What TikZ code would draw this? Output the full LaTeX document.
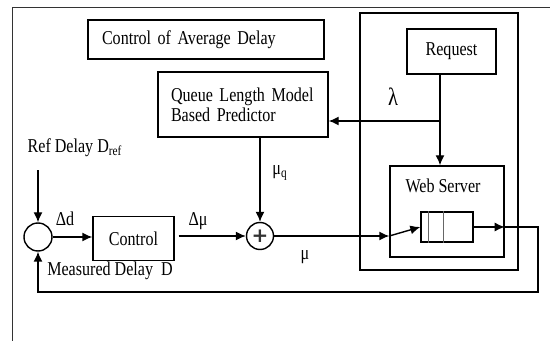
\documentclass[tikz,border=0pt]{standalone}
\usepackage{fontspec}
\setmainfont{Liberation Serif}[FakeStretch=0.82]
\newfontfamily\plusfont{DejaVu Sans}
\usetikzlibrary{arrows.meta}
\begin{document}
\begin{tikzpicture}[x=0.5pt, y=-0.5pt, >={Latex[length=5pt,width=4.5pt]}, line width=0.7pt,
      font=\fontsize{9.8}{10}\selectfont,
      blk/.style={draw, inner sep=0pt, align=center},
      lblk/.style={draw, inner ysep=0pt, align=left},
      sumc/.style={draw, circle, inner sep=0pt}]
    \useasboundingbox (0,0) rectangle (550,341);
    \draw[line width=0.5pt, black!80] (12,341) -- (12,8) -- (550,8);
    \node[lblk, inner xsep=7pt, text width=104pt, minimum height=19.5pt] (title) at (206,39.5) {Control of Average Delay};
    \node[lblk, inner xsep=6.5pt, text width=72pt, minimum height=32.5pt] (pred) at (243,104.5) {Queue Length Model\\Based Predictor};
    \node[blk, minimum width=79pt, minimum height=128.5pt] (sys) at (439,141.5) {};
    \node[blk, minimum width=44.5pt, minimum height=22.5pt] (req) at (451.5,51.5) {Request};
    \node[blk, minimum width=57pt, minimum height=45.5pt] (web) at (447,211.5) {};
    \node (webtxt) at (443,186) {Web Server};
    \node[blk, minimum width=26pt, minimum height=15pt] (queue) at (447,227) {};
    \draw[black!60] ([xshift=4pt]queue.north west) -- ([xshift=4pt]queue.south west);
    \draw[black!60] ([xshift=11.5pt]queue.north west) -- ([xshift=11.5pt]queue.south west);
    \node[sumc, minimum size=14pt] (cmp) at (38,237) {};
    \node[blk, minimum width=40.5pt, minimum height=22pt] (ctrl) at (133.5,238.5) {Control};
    \node[sumc, minimum size=13.5pt, font=\plusfont\fontsize{10}{10}\selectfont\bfseries, text=black!80] (plus) at (260,236) {+};
    \node (ref) at (75,148) {Ref Delay D\textsubscript{ref}};
    \node (meas) at (110,271) {Measured Delay\ \ D};
    \node (dd) at (65,219) {Δd};
    \node (dmu) at (198,221) {Δμ};
    \node (muq) at (280,173) {μ\textsubscript{q}};
    \node (mu) at (305,257) {μ};
    \node[font=\fontsize{12.5}{13}\selectfont] (lam) at (393,97) {λ};
    \coordinate (br) at (440,121);
    \coordinate (fb) at (538,292);
    \draw[->] ([yshift=-3pt]ref.south -| cmp.north) -- (cmp.north);
    \draw[->] (cmp.east) -- (ctrl.west |- cmp.east);
    \draw[->] ([xshift=2pt]ctrl.east |- plus.west) -- (plus.west);
    \draw[->] (pred.south -| plus.north) -- (plus.north);
    \draw[->] (plus.east) -- (web.west |- plus.east);
    \draw[->] (web.west |- plus.east) -- (queue.west);
    \draw[->] (queue.east) -- (web.east |- queue.east);
    \draw[->] (web.east |- queue.east) -| (fb) -| (cmp.south);
    \draw[->] (req.south -| br) -- (web.north -| br);
    \draw[->] (br) -- (pred.east |- br);
  \end{tikzpicture}
\end{document}
